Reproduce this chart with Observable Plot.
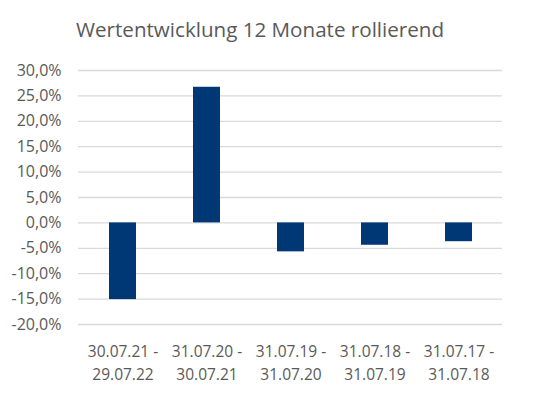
<!DOCTYPE html>
<html><head><meta charset="utf-8">
<script src="https://cdn.jsdelivr.net/npm/d3@7"></script>
<script src="https://cdn.jsdelivr.net/npm/@observablehq/plot@0.6"></script>
<style>
body{margin:0;background:#fff;font-family:"Open Sans",sans-serif;}
#title{height:50px;width:540px;box-sizing:border-box;text-align:center;font-size:20.6px;color:#595959;line-height:22px;padding-top:18px;padding-right:20px;}
</style></head>
<body>
<div id="title">Wertentwicklung 12 Monate rollierend</div>
<div id="chart"></div>
<script>
const periods = ["30.07.21 -\n29.07.22","31.07.20 -\n30.07.21","31.07.19 -\n31.07.20","31.07.18 -\n31.07.19","31.07.17 -\n31.07.18"];
const values = [-15.1, 26.7, -5.7, -4.4, -3.7];
const yTicks = [-20,-15,-10,-5,0,5,10,15,20,25,30];
const data = periods.map((p,i)=>({period:p, value:values[i]}));
const fmt = d => d.toFixed(1).replace(".", ",") + "%";
const chart = Plot.plot({
  width:540, height:346,
  marginTop:20, marginBottom:72, marginLeft:78, marginRight:38,
  style:{fontFamily:"Open Sans, sans-serif", fontSize:"16px", color:"#595959", background:"#fff"},
  x:{domain:periods, paddingInner:0.68, paddingOuter:0.34, label:null},
  y:{domain:[-20,30], label:null},
  marks:[
    Plot.gridY(yTicks,{stroke:"#d9d9d9", strokeOpacity:1, strokeWidth:1.3}),
    Plot.barY(data,{x:"period", y:"value", fill:"#003775"}),
    Plot.axisY({ticks:yTicks, tickSize:0, tickPadding:17, tickFormat:fmt, fontSize:16, fill:"#595959", label:null}),
    Plot.axisX({tickSize:0, tickPadding:16, fontSize:15.5, fill:"#595959", lineHeight:1.5, label:null})
  ]
});
document.getElementById("chart").append(chart);
</script>
</body></html>
